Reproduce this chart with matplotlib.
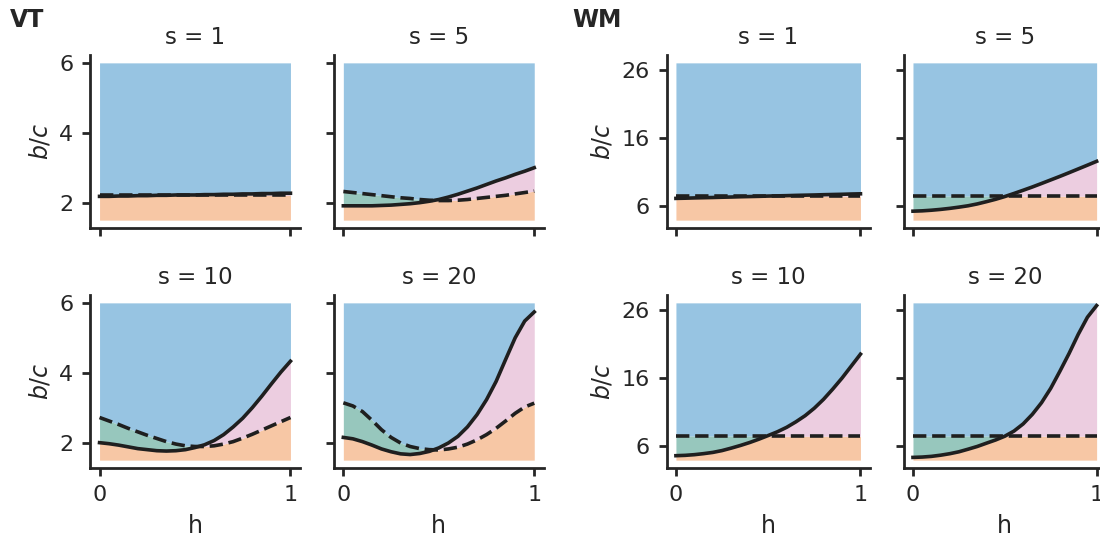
import numpy as np
import matplotlib
matplotlib.use("Agg")
import matplotlib.pyplot as plt

# ---------------- data ----------------
h = [0.0, 0.05, 0.1, 0.15, 0.2, 0.25, 0.3, 0.35, 0.4, 0.45, 0.5,
     0.55, 0.6, 0.65, 0.7, 0.75, 0.8, 0.85, 0.9, 0.95, 1.0]

s_labels = ["s = 1", "s = 5", "s = 10", "s = 20"]

# VT model: solid and dashed thresholds of b/c
vt_s1_solid = [2.18, 2.18, 2.19, 2.19, 2.20, 2.20, 2.21, 2.21, 2.22, 2.22, 2.22,
               2.23, 2.23, 2.24, 2.24, 2.25, 2.25, 2.26, 2.26, 2.27, 2.27]
vt_s1_dashed = [2.21, 2.21, 2.21, 2.21, 2.21, 2.21, 2.21, 2.21, 2.21, 2.21, 2.21,
                2.21, 2.21, 2.21, 2.21, 2.21, 2.21, 2.21, 2.21, 2.21, 2.21]
vt_s5_solid = [1.91, 1.91, 1.91, 1.91, 1.92, 1.93, 1.95, 1.97, 2.00, 2.04, 2.09,
               2.16, 2.24, 2.33, 2.42, 2.52, 2.62, 2.71, 2.81, 2.90, 3.00]
vt_s5_dashed = [2.32, 2.29, 2.26, 2.23, 2.20, 2.17, 2.14, 2.12, 2.09, 2.07, 2.06,
                2.06, 2.07, 2.09, 2.12, 2.15, 2.18, 2.21, 2.25, 2.29, 2.33]
vt_s10_solid = [2.00, 1.97, 1.93, 1.88, 1.83, 1.80, 1.77, 1.76, 1.77, 1.80, 1.86,
                1.94, 2.06, 2.23, 2.45, 2.70, 3.00, 3.33, 3.68, 4.02, 4.33]
vt_s10_dashed = [2.72, 2.62, 2.52, 2.41, 2.31, 2.21, 2.12, 2.03, 1.96, 1.91, 1.89,
                 1.89, 1.91, 1.96, 2.03, 2.13, 2.24, 2.36, 2.48, 2.60, 2.72]
vt_s20_solid = [2.15, 2.11, 2.03, 1.93, 1.82, 1.74, 1.68, 1.66, 1.69, 1.75, 1.85,
                1.99, 2.18, 2.45, 2.80, 3.23, 3.75, 4.38, 5.00, 5.48, 5.74]
vt_s20_dashed = [3.14, 3.05, 2.89, 2.64, 2.37, 2.15, 1.99, 1.89, 1.83, 1.80, 1.79,
                 1.82, 1.87, 1.96, 2.08, 2.23, 2.41, 2.62, 2.84, 3.02, 3.13]

# WM model
wm_s1_solid = [7.18, 7.21, 7.25, 7.28, 7.31, 7.35, 7.38, 7.42, 7.45, 7.48, 7.52,
               7.55, 7.58, 7.62, 7.65, 7.68, 7.72, 7.75, 7.78, 7.82, 7.85]
wm_s5_solid = [5.31, 5.36, 5.45, 5.57, 5.72, 5.90, 6.10, 6.37, 6.70, 7.05, 7.45,
               7.90, 8.37, 8.85, 9.36, 9.88, 10.40, 10.94, 11.49, 12.04, 12.60]
wm_s10_solid = [4.65, 4.70, 4.80, 4.95, 5.13, 5.40, 5.76, 6.15, 6.58, 7.07, 7.60,
                8.15, 8.80, 9.60, 10.50, 11.60, 12.90, 14.40, 16.00, 17.75, 19.50]
wm_s20_solid = [4.40, 4.45, 4.55, 4.72, 4.94, 5.22, 5.60, 6.00, 6.48, 6.95, 7.50,
                8.25, 9.30, 10.70, 12.40, 14.50, 17.00, 19.60, 22.40, 24.90, 26.60]
wm_dashed = [7.5, 7.5, 7.5, 7.5, 7.5, 7.5, 7.5, 7.5, 7.5, 7.5, 7.5,
             7.5, 7.5, 7.5, 7.5, 7.5, 7.5, 7.5, 7.5, 7.5, 7.5]

vt_solid = [vt_s1_solid, vt_s5_solid, vt_s10_solid, vt_s20_solid]
vt_dashed = [vt_s1_dashed, vt_s5_dashed, vt_s10_dashed, vt_s20_dashed]
wm_solid = [wm_s1_solid, wm_s5_solid, wm_s10_solid, wm_s20_solid]
wm_dash = [wm_dashed, wm_dashed, wm_dashed, wm_dashed]

vt_range = (1.5, 6.0)
wm_range = (4.0, 27.0)
vt_yticks = [2, 4, 6]
wm_yticks = [6, 16, 26]
xticks = [0, 1]

# ---------------- style ----------------
TXT = "#262626"
LINE = "#1f1f1f"
C_BLUE = "#97c4e2"
C_ORANGE = "#f7c7a5"
C_GREEN = "#97c7bd"
C_PINK = "#eccde0"

plt.rcParams.update({
    "font.family": ["DejaVu Sans"],
    "text.color": TXT,
    "axes.labelcolor": TXT,
    "xtick.color": TXT,
    "ytick.color": TXT,
    "axes.edgecolor": TXT,
    "axes.linewidth": 2.0,
    "xtick.major.width": 2.0,
    "ytick.major.width": 2.0,
    "xtick.major.size": 6,
    "ytick.major.size": 6,
    "xtick.major.pad": 6,
    "ytick.major.pad": 6,
    "xtick.labelsize": 16,
    "ytick.labelsize": 16,
    "axes.labelsize": 17,
    "axes.titlesize": 16.5,
    "mathtext.fontset": "dejavusans",
})

W, H = 1100, 541
fig = plt.figure(figsize=(W / 100, H / 100), dpi=100)

cols_px = [(90, 210), (333.8, 210), (666.7, 203), (903.8, 202)]
rows_px = [(55, 228), (295, 468)]


def make_ax(col, row):
    l, w = cols_px[col]
    t, b = rows_px[row]
    return fig.add_axes([l / W, 1 - b / H, w / W, (b - t) / H])


def draw_panel(ax, solid, dashed, yr, yticks, title, left, bottom):
    x = np.asarray(h)
    s = np.asarray(solid)
    d = np.asarray(dashed)
    lo, hi = yr
    top = np.full_like(x, hi)
    bot = np.full_like(x, lo)
    upper = np.maximum(s, d)
    lower = np.minimum(s, d)
    ax.fill_between(x, upper, top, color=C_BLUE, lw=0)
    ax.fill_between(x, bot, lower, color=C_ORANGE, lw=0)
    ax.fill_between(x, s, d, where=d >= s, interpolate=True, color=C_GREEN, lw=0)
    ax.fill_between(x, s, d, where=s >= d, interpolate=True, color=C_PINK, lw=0)
    ax.plot(x, d, color=LINE, lw=2.6, ls="--")
    ax.plot(x, s, color=LINE, lw=2.6, ls="-")
    ax.set_xticks(xticks)
    ax.set_yticks(yticks)
    ax.spines["top"].set_visible(False)
    ax.spines["right"].set_visible(False)
    ax.set_title(title, pad=8, color=TXT)
    if left:
        ax.set_ylabel("$b/c$", labelpad=5)
    else:
        ax.set_yticklabels([])
    if bottom:
        ax.set_xlabel("h", labelpad=7)
    else:
        ax.set_xticklabels([])


for i in range(4):
    r, c = divmod(i, 2)
    ax = make_ax(c, r)
    draw_panel(ax, vt_solid[i], vt_dashed[i], vt_range, vt_yticks,
               s_labels[i], c == 0, r == 1)
    ax = make_ax(c + 2, r)
    draw_panel(ax, wm_solid[i], wm_dash[i], wm_range, wm_yticks,
               s_labels[i], c == 0, r == 1)

fig.text(10 / W, 1 - 8 / H, "VT", fontsize=17, fontweight="bold", va="top", ha="left")
fig.text(572 / W, 1 - 8 / H, "WM", fontsize=17, fontweight="bold", va="top", ha="left")

fig.savefig("out.png", dpi=100)
